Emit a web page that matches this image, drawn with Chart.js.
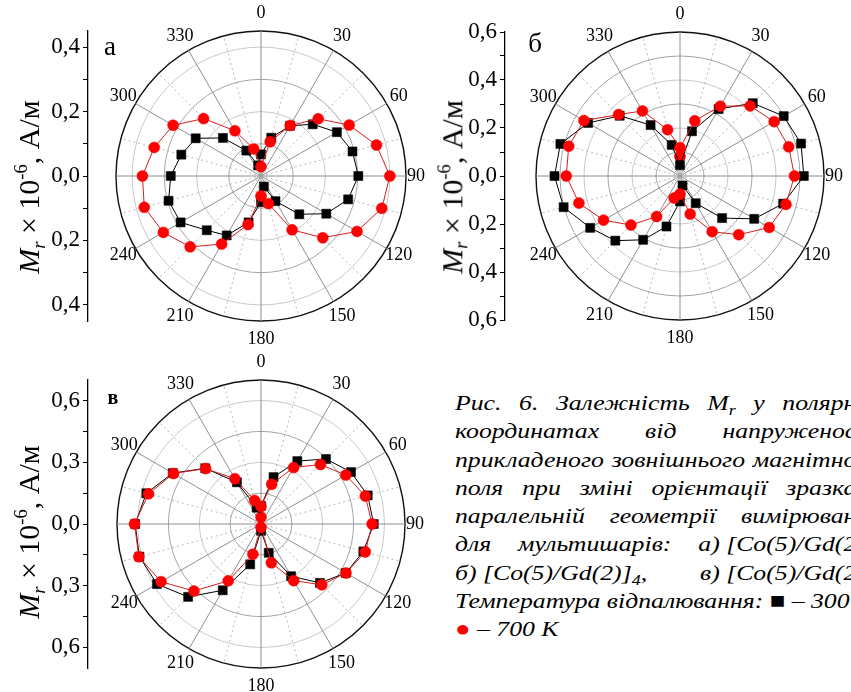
<!DOCTYPE html>
<html lang="uk">
<head>
<meta charset="utf-8">
<title>Рис. 6 — Mr у полярних координатах</title>
<script src="https://cdn.jsdelivr.net/npm/chart.js@4.4.1/dist/chart.umd.min.js"></script>
<style>
  html, body { margin: 0; padding: 0; background: #fff; }
  body { width: 851px; height: 692px; overflow: hidden; position: relative;
         font-family: "Liberation Serif", "Times New Roman", serif; color: #000; }
  canvas { position: absolute; }
  .ytitle { position: absolute; white-space: nowrap; font-size: 30px; line-height: 1;
            transform: translate(-50%, -50%) rotate(-90deg); }
  .ytitle sub { font-size: 0.62em; vertical-align: -0.28em; }
  .ytitle sup { font-size: 0.62em; vertical-align: 0.62em; }
  .tag { position: absolute; line-height: 1; transform: translate(-50%, -50%); }
  .caption { position: absolute; left: 455px; top: 389px; width: 343px;
             font-style: italic; font-size: 22px;
             transform: scaleX(1.17); transform-origin: 0 0; }
  .caption .ln { height: 28.3px; line-height: 28.3px; white-space: nowrap;
                 display: flex; justify-content: space-between; }
  .caption .ln.plain { display: block; }
  .caption sub { font-size: 0.7em; line-height: 0; }
</style>
</head>
<body>

<canvas id="panelA" width="445" height="345" style="left:0;top:0"></canvas>
<canvas id="panelB" width="445" height="345" style="left:425px;top:0"></canvas>
<canvas id="panelV" width="445" height="347" style="left:0;top:345px"></canvas>

<!-- axis titles -->
<div class="ytitle" style="left:30px;top:187px"><i>M<sub>r</sub></i> × 10<sup>-6</sup>, А/м</div>
<div class="ytitle" style="left:453px;top:187px"><i>M<sub>r</sub></i> × 10<sup>-6</sup>, А/м</div>
<div class="ytitle" style="left:30px;top:532px"><i>M<sub>r</sub></i> × 10<sup>-6</sup>, А/м</div>

<!-- panel letters -->
<div class="tag" style="left:110px;top:46px;font-size:27px">а</div>
<div class="tag" style="left:535px;top:43px;font-size:27px">б</div>
<div class="tag" style="left:113px;top:397px;font-size:20px;font-weight:bold">в</div>

<!-- caption -->
<div class="caption">
  <div class="ln"><span>Рис.</span><span>6.</span><span>Залежність</span><span>M<sub>r</sub></span><span>у</span><span>полярн</span></div>
  <div class="ln"><span>координатах</span><span>від</span><span>напруженос</span></div>
  <div class="ln"><span>прикладеного</span><span>зовнішнього</span><span>магнітно</span></div>
  <div class="ln"><span>поля</span><span>при</span><span>зміні</span><span>орієнтації</span><span>зразка</span></div>
  <div class="ln"><span>паралельній</span><span>геометрії</span><span>вимірюван</span></div>
  <div class="ln"><span>для</span><span>мультишарів:</span><span>а) [Co(5)/Gd(2</span></div>
  <div class="ln"><span>б) [Co(5)/Gd(2)]<sub>4</sub>,</span><span>в) [Co(5)/Gd(2</span></div>
  <div class="ln plain">Температура відпалювання: <span style="font-style:normal">■</span> – 300</div>
  <div class="ln plain"><span style="color:#ff0000;font-style:normal">●</span> – 700 К</div>
</div>

<script>
// angles of the measurements, degrees clockwise from the top
const angles = [0, 15, 30, 45, 60, 75, 90, 105, 120, 135, 150, 165,
                180, 195, 210, 225, 240, 255, 270, 285, 300, 315, 330, 345];
const angleLabels = ['0', '', '30', '', '60', '', '90', '', '120', '', '150', '',
                     '180', '', '210', '', '240', '', '', '', '300', '', '330', ''];

// а) [Co(5)/Gd(2)]2
const aBlack = [0.067, 0.123, 0.180, 0.227, 0.272, 0.294, 0.302, 0.280, 0.234, 0.168, 0.090, 0.034,
                0.081, 0.149, 0.213, 0.238, 0.288, 0.297, 0.280, 0.256, 0.234, 0.167, 0.091, 0.034];
const aRed   = [0.029, 0.110, 0.181, 0.251, 0.316, 0.371, 0.400, 0.388, 0.344, 0.271, 0.193, 0.089,
                0.062, 0.156, 0.244, 0.311, 0.350, 0.375, 0.368, 0.343, 0.315, 0.252, 0.162, 0.087];
const aRings = [0, 0.1, 0.2, 0.3, 0.4, 0.45];
const aAxisTicks  = [-0.4, -0.3, -0.2, -0.1, 0, 0.1, 0.2, 0.3, 0.4];
const aAxisLabels = ['0,4', '', '0,2', '', '0,0', '', '0,2', '', '0,4'];

// б) [Co(5)/Gd(2)]4
const bBlack = [0.045, 0.193, 0.322, 0.429, 0.499, 0.522, 0.516, 0.445, 0.357, 0.248, 0.131, 0.041,
                0.106, 0.218, 0.307, 0.381, 0.432, 0.502, 0.523, 0.516, 0.442, 0.355, 0.245, 0.134];
const bRed   = [0.118, 0.238, 0.336, 0.413, 0.453, 0.469, 0.477, 0.457, 0.429, 0.346, 0.268, 0.164,
                0.075, 0.095, 0.195, 0.289, 0.368, 0.436, 0.474, 0.480, 0.462, 0.362, 0.313, 0.200];
const bRedEnd = 0.081; // repeated point at 360
const bRings = [0, 0.1, 0.2, 0.3, 0.4, 0.5, 0.6];
const bAxisTicks  = [-0.6, -0.5, -0.4, -0.3, -0.2, -0.1, 0, 0.1, 0.2, 0.3, 0.4, 0.5, 0.6];
const bAxisLabels = ['0,6', '', '0,4', '', '0,2', '', '0,0', '', '0,2', '', '0,4', '', '0,6'];

// в) [Co(5)/Gd(2)]6
const vBlack = [0.088, 0.236, 0.353, 0.447, 0.505, 0.537, 0.548, 0.515, 0.476, 0.405, 0.293, 0.145,
                0.033, 0.203, 0.372, 0.501, 0.584, 0.612, 0.612, 0.577, 0.495, 0.383, 0.234, 0.082];
const vRed   = [0.085, 0.200, 0.317, 0.409, 0.476, 0.525, 0.540, 0.525, 0.477, 0.418, 0.318, 0.195,
                0.016, 0.152, 0.319, 0.461, 0.561, 0.615, 0.615, 0.566, 0.491, 0.381, 0.254, 0.118];
const vRedEnd = 0.033; // repeated point at 360
const vRings = [0, 0.15, 0.3, 0.45, 0.6, 0.7];
const vAxisTicks  = [-0.6, -0.45, -0.3, -0.15, 0, 0.15, 0.3, 0.45, 0.6];
const vAxisLabels = ['0,6', '', '0,3', '', '0,0', '', '0,3', '', '0,6'];

Chart.defaults.font.family = '"Liberation Serif", "Times New Roman", serif';
Chart.defaults.color = '#000';

// angle labels around the circle (270 is left out, as in the figure)
const angleLabelPlugin = {
  id: 'angleLabels',
  afterDraw(chart) {
    const r = chart.scales.r;
    const ctx = chart.ctx;
    ctx.save();
    ctx.font = '18px "Liberation Serif", serif';
    ctx.fillStyle = '#000';
    ctx.textAlign = 'center';
    ctx.textBaseline = 'middle';
    angleLabels.forEach((text, i) => {
      if (!text) return;
      // a bit further out at top/bottom, where the label height counts
      const gap = 10 + 8 * Math.abs(Math.cos(r.getIndexAngle(i)));
      const p = r.getPointPosition(i, r.drawingArea + gap);
      ctx.fillText(text, p.x, p.y);
    });
    ctx.restore();
  }
};

function makePanel(id, p) {
  const datasets = [
    {
      label: '700 K', data: p.red,
      borderColor: '#d81e1e', borderWidth: 1,
      pointStyle: 'circle', pointRadius: 5.5,
      pointBackgroundColor: '#ff0000', pointBorderColor: '#ff0000', pointBorderWidth: 0.5,
      fill: false
    },
    {
      label: '300 K', data: p.black,
      borderColor: '#000', borderWidth: 1,
      pointStyle: 'rect', pointRadius: 6.4,
      pointBackgroundColor: '#000', pointBorderColor: '#000', pointBorderWidth: 0.5,
      fill: false
    }
  ];
  if (p.redEnd !== undefined) {
    datasets.push({
      label: '700 K (360)', data: [p.redEnd].concat(Array(angles.length - 1).fill(null)),
      showLine: false, pointStyle: 'circle', pointRadius: 5.5,
      pointBackgroundColor: '#ff0000', pointBorderColor: '#ff0000', pointBorderWidth: 0.5
    });
  }
  const lastRing = p.rings.length - 1;
  return new Chart(document.getElementById(id), {
    type: 'radar',
    data: { labels: angles, datasets: datasets },
    options: {
      responsive: false,
      animation: false,
      layout: { padding: p.padding },
      plugins: { legend: { display: false }, tooltip: { enabled: false } },
      elements: { line: { tension: 0 } },
      scales: {
        r: {
          min: 0, max: p.rings[lastRing],
          afterBuildTicks: s => { s.ticks = p.rings.map(v => ({ value: v })); },
          ticks: { display: false },
          pointLabels: { display: false },
          grid: {
            circular: true,
            color: c => c.index === lastRing ? '#111' : (c.index % 2 ? '#a4a4a4' : '#c8c8c8'),
            lineWidth: c => c.index === lastRing ? 1.4 : 1
          },
          angleLines: {
            color: c => c.index % 2 ? '#b8b8b8' : '#8e8e8e',
            lineWidth: 1,
            borderDash: c => c.index % 2 ? [2, 3] : []
          }
        },
        y: {
          type: 'linear', position: 'left',
          min: -p.rings[lastRing], max: p.rings[lastRing],
          afterBuildTicks: s => { s.ticks = p.axisTicks.map(v => ({ value: v })); },
          afterFit: s => { s.width = 60; },
          ticks: {
            autoSkip: false, padding: 3,
            font: { size: 23 },
            callback: (v, i) => p.axisLabels[i]
          },
          grid: { drawOnChartArea: false, drawTicks: true, tickLength: 5, color: '#000', lineWidth: 1 },
          border: { display: true, color: '#000', width: 1.3 }
        }
      }
    },
    plugins: [angleLabelPlugin]
  });
}

makePanel('panelA', {
  red: aRed, black: aBlack, rings: aRings,
  axisTicks: aAxisTicks, axisLabels: aAxisLabels,
  padding: { left: 28, top: 31, right: 10, bottom: 24 }
});
makePanel('panelB', {
  red: bRed, black: bBlack, redEnd: bRedEnd, rings: bRings,
  axisTicks: bAxisTicks, axisLabels: bAxisLabels,
  padding: { left: 20, top: 32, right: 15, bottom: 25 }
});
makePanel('panelV', {
  red: vRed, black: vBlack, redEnd: vRedEnd, rings: vRings,
  axisTicks: vAxisTicks, axisLabels: vAxisLabels,
  padding: { left: 28, top: 35, right: 11, bottom: 24 }
});
</script>
</body>
</html>
